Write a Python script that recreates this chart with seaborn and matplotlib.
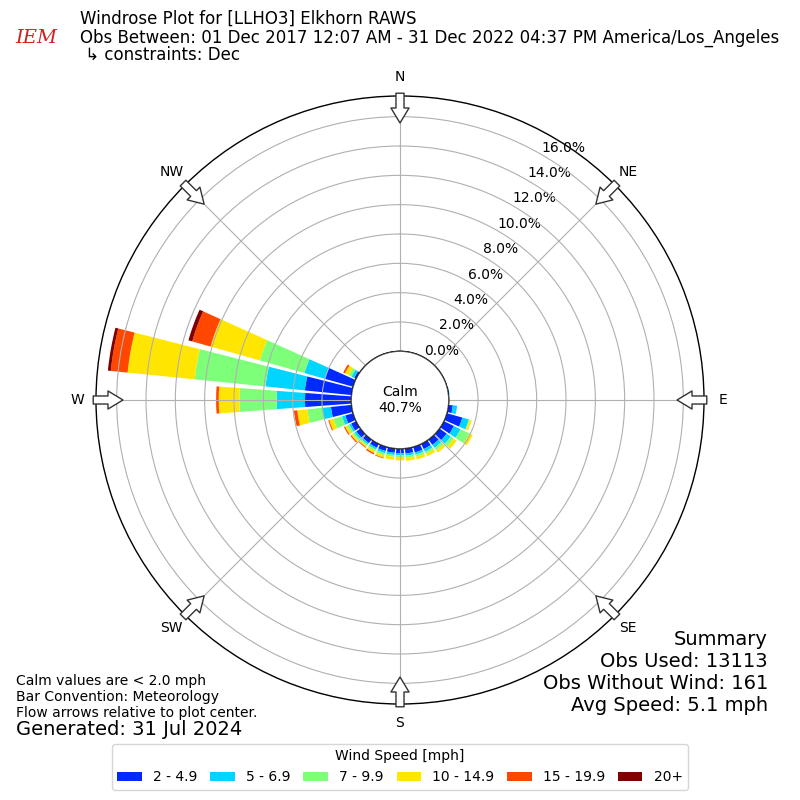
import numpy as np
import matplotlib
matplotlib.use("Agg")
import matplotlib.pyplot as plt
import seaborn as sns

# wind direction bins (deg) and percent frequency per speed bin
directions = np.arange(0, 360, 10)
speed_labels = ["2 - 4.9", "5 - 6.9", "7 - 9.9", "10 - 14.9", "15 - 19.9", "20+"]

# percentages, one list per speed bin (index = direction / 10)
blue = [0, 0, 0, 0, 0, 0, 0, 0, 0.05, 0, 0.30, 1.10, 0.76, 0.60, 0.45, 0.40, 0.40, 0.35,
        0.30, 0.30, 0.30, 0.30, 0.30, 0.35, 0.38, 0.55, 1.41, 3.16, 3.20, 2.00, 0.15, 0, 0, 0, 0, 0]
cyan = [0, 0, 0, 0, 0, 0, 0, 0, 0.03, 0, 0.29, 0.46, 0.50, 0.35, 0.25, 0.20, 0.15, 0.15,
        0.15, 0.15, 0.15, 0.13, 0.12, 0.15, 0.14, 0.24, 0.58, 1.93, 2.70, 1.45, 0.20, 0, 0, 0, 0, 0]
green = [0, 0, 0, 0, 0, 0, 0, 0, 0, 0, 0, 0.05, 0.66, 0.25, 0.20, 0.15, 0.15, 0.15,
         0.12, 0.13, 0.15, 0.13, 0.12, 0.15, 0.16, 0.60, 1.04, 2.54, 4.85, 3.15, 0.20, 0, 0, 0, 0, 0]
yellow = [0, 0, 0, 0, 0, 0, 0, 0, 0, 0, 0, 0.15, 0.26, 0.24, 0.20, 0.20, 0.20, 0.20,
          0.23, 0.20, 0.17, 0.14, 0.10, 0.12, 0.16, 0.30, 0.69, 1.41, 4.60, 3.50, 0.30, 0, 0, 0, 0, 0]
red = [0, 0, 0, 0, 0, 0, 0, 0, 0, 0, 0, 0, 0, 0, 0, 0, 0, 0,
       0, 0, 0.05, 0.10, 0.06, 0.08, 0.08, 0.07, 0.23, 0.18, 1.15, 1.30, 0.13, 0, 0, 0, 0, 0]
darkred = [0, 0, 0, 0, 0, 0, 0, 0, 0, 0, 0, 0, 0, 0, 0, 0, 0, 0,
           0, 0, 0, 0, 0, 0, 0, 0, 0, 0, 0.20, 0.27, 0, 0, 0, 0, 0, 0]

calm_pct = 40.7
rticks = [0, 2, 4, 6, 8, 10, 12, 14, 16]
compass = ["N", "NE", "E", "SE", "S", "SW", "W", "NW"]
summary = ["Summary", "Obs Used: 13113", "Obs Without Wind: 161", "Avg Speed: 5.1 mph"]
notes = ["Calm values are < 2.0 mph", "Bar Convention: Meteorology",
         "Flow arrows relative to plot center."]

sns.set_style("white")
plt.rcParams["font.family"] = ["DejaVu Sans"]
for key in ["text.color", "xtick.color", "ytick.color", "axes.labelcolor"]:
    plt.rcParams[key] = "black"

colors = sns.color_palette(matplotlib.colormaps["jet"](np.linspace(0, 1, 7)[1:]))
series = [blue, cyan, green, yellow, red, darkred]

fig = plt.figure(figsize=(8, 8), dpi=100)
ax = fig.add_axes([0.12, 0.12, 0.76, 0.76], projection="polar")
ax.set_theta_zero_location("N")
ax.set_theta_direction(-1)

theta = np.deg2rad(directions)
width = np.deg2rad(8.5)
bottom = np.zeros(len(directions))
for vals, col, lab in zip(series, colors, speed_labels):
    vals = np.array(vals)
    ax.bar(theta, vals, width=width, bottom=bottom, color=col, label=lab,
           linewidth=0, zorder=1)
    bottom += vals

rmax = 17.41
ax.set_ylim(0, rmax)
ax.set_rorigin(-3.32)
ax.set_yticks(rticks)
ax.set_yticklabels(["%.1f%%" % t for t in rticks], fontsize=10)
ax.set_rlabel_position(30)
ax.set_xticks(np.deg2rad(np.arange(0, 360, 45)))
ax.set_xticklabels(compass, fontsize=10)
ax.tick_params(axis="x", pad=3)
ax.set_axisbelow(False)
ax.grid(True, color="#b0b0b0", linewidth=0.8)
ax.spines["polar"].set_color("black")
ax.spines["polar"].set_linewidth(1.0)

# calm circle in the middle
calm = plt.Circle((0.5, 0.5), 48.7 / 608, transform=ax.transAxes, facecolor="white",
                  edgecolor="black", linewidth=1.0, zorder=3)
ax.add_patch(calm)
ax.text(0.5, 0.5, "Calm\n%.1f%%" % calm_pct, transform=ax.transAxes, ha="center",
        va="center", fontsize=10, zorder=4)

# flow arrows pointing to the center
for d in np.arange(0, 360, 45):
    ax.annotate("", xy=(np.deg2rad(d), 15.57), xytext=(np.deg2rad(d), 17.6),
                annotation_clip=False, zorder=5,
                arrowprops=dict(arrowstyle="simple,head_length=1.08,head_width=1.3,tail_width=0.58",
                                mutation_scale=10, fc="white", ec="#333333", lw=1,
                                shrinkA=0, shrinkB=0))

# header
fig.text(0.1, 0.976, "Windrose Plot for [LLHO3] Elkhorn RAWS", fontsize=12, va="center")
fig.text(0.1, 0.953, "Obs Between: 01 Dec 2017 12:07 AM - 31 Dec 2022 04:37 PM America/Los_Angeles",
         fontsize=12, va="center")
fig.text(0.1, 0.931, " \u21b3 constraints: Dec", fontsize=12, va="center")
fig.text(0.045, 0.952, "IEM", fontsize=14, color="#d02020", family="serif", style="italic",
         ha="center", va="center")

fig.text(0.96, 0.106, "\n".join(summary), fontsize=14, ha="right", va="bottom",
         multialignment="right", linespacing=1.2)
fig.text(0.02, 0.1, "\n".join(notes), fontsize=10, ha="left", va="bottom", linespacing=1.2)
fig.text(0.02, 0.088, "Generated: 31 Jul 2024", fontsize=14, ha="left", va="center")

leg = fig.legend(loc="lower center", bbox_to_anchor=(0.5, 0.004), ncol=6, fontsize=10,
                 title="Wind Speed [mph]", title_fontsize=10, handlelength=1.75,
                 handletextpad=0.8, columnspacing=0.95)

fig.savefig("out.png", dpi=100)
